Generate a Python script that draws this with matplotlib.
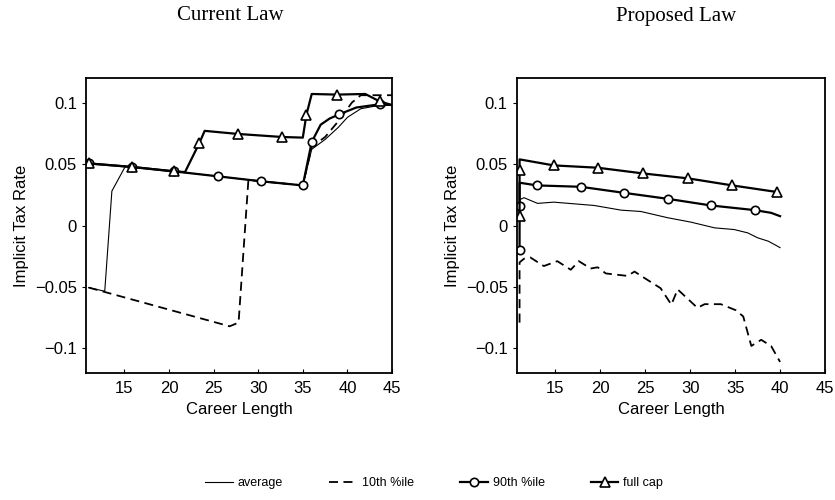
import matplotlib
matplotlib.use('Agg')
import matplotlib.pyplot as plt

plt.rcParams['font.family'] = 'Liberation Sans'

# Current law
cur_cap_x = [11, 15.9, 20.6, 21.8, 23.4, 24, 27.7, 32.7, 35, 35.4, 36, 38.8, 42, 43.6, 45]
cur_cap_y = [0.0505, 0.0476, 0.044, 0.0435, 0.067, 0.077, 0.0745, 0.072, 0.0715,
             0.09, 0.107, 0.1065, 0.107, 0.101, 0.098]
cur_cap_marks = [0, 1, 2, 4, 6, 7, 9, 11, 13]

cur_p90_x = [11, 15.9, 20.6, 25.5, 30.3, 35, 36, 37, 38, 39.1, 41, 43.6, 45]
cur_p90_y = [0.0505, 0.0476, 0.044, 0.040, 0.036, 0.0326, 0.068, 0.082, 0.087,
             0.0905, 0.096, 0.0986, 0.098]
cur_p90_marks = [0, 1, 2, 3, 4, 5, 6, 9, 11]

cur_p10_x = [11, 26.8, 27.8, 28.9, 30.3, 35, 36, 37.5, 39, 40.5, 41.5, 45]
cur_p10_y = [-0.0505, -0.082, -0.079, 0.037, 0.036, 0.0326, 0.064, 0.072, 0.085,
             0.1, 0.106, 0.106]

cur_avg_x = [11, 12.8, 13.6, 15.1, 15.9, 20.6, 25.5, 30.3, 35, 36, 37.5, 39, 40,
             41.5, 43, 45]
cur_avg_y = [-0.0505, -0.0535, 0.028, 0.048, 0.0476, 0.044, 0.040, 0.036, 0.0326,
             0.062, 0.07, 0.08, 0.088, 0.095, 0.097, 0.098]

# Proposed law
new_cap_x = [11, 11, 11, 14.8, 19.7, 24.7, 29.8, 34.7, 39.7]
new_cap_y = [0.0076, 0.0448, 0.0538, 0.0489, 0.047, 0.0424, 0.0383, 0.0326, 0.0272]
new_cap_marks = [0, 1, 3, 4, 5, 6, 7, 8]

new_p90_x = [11, 11, 11, 12.95, 17.8, 22.6, 27.5, 32.3, 37.2, 39, 40]
new_p90_y = [-0.020, 0.0158, 0.0348, 0.0326, 0.0315, 0.0266, 0.0217, 0.0163,
             0.0125, 0.0103, 0.0076]
new_p90_marks = [0, 1, 3, 4, 5, 6, 7, 8]

new_avg_x = [11, 11, 11.5, 13, 14.8, 19.3, 22.3, 24.5, 27.5, 30.1, 32.7, 34.9,
             36.4, 37.5, 38.7, 40]
new_avg_y = [0.0, 0.021, 0.0226, 0.018, 0.019, 0.0163, 0.0125, 0.0114, 0.0063,
             0.0027, -0.0019, -0.0033, -0.006, -0.01, -0.0128, -0.018]

new_p10_x = [11, 11, 11.5, 12.2, 13.7, 15.2, 16.7, 17.6, 18.9, 19.7, 20.6, 23,
             23.8, 24.9, 26.7, 27.9, 28.6, 30.8, 31.6, 33.4, 35.1, 35.9, 36.8,
             37.9, 39, 40]
new_p10_y = [-0.079, -0.030, -0.027, -0.026, -0.033, -0.029, -0.036, -0.029,
             -0.035, -0.034, -0.039, -0.041, -0.0375, -0.0427, -0.051, -0.0644,
             -0.052, -0.067, -0.064, -0.064, -0.069, -0.074, -0.098, -0.093,
             -0.098, -0.111]

titles = ['Current Law', 'Proposed Law']
xticks = [15, 20, 25, 30, 35, 40, 45]
yticks = [-0.1, -0.05, 0, 0.05, 0.1]
ytick_labels = ['\u22120.1', '\u22120.05', '0', '0.05', '0.1']

dash = (0, (5, 3))
fig = plt.figure(figsize=(8.35, 5.0), dpi=100)
ax1 = fig.add_axes([0.103, 0.254, 0.3665, 0.59])
ax2 = fig.add_axes([0.619, 0.254, 0.369, 0.59])

panels = [
    (ax1, cur_avg_x, cur_avg_y, cur_p10_x, cur_p10_y, cur_p90_x, cur_p90_y,
     cur_p90_marks, cur_cap_x, cur_cap_y, cur_cap_marks),
    (ax2, new_avg_x, new_avg_y, new_p10_x, new_p10_y, new_p90_x, new_p90_y,
     new_p90_marks, new_cap_x, new_cap_y, new_cap_marks),
]
for i, (ax, ax_, ay, dx, dy, px, py, pm, cx, cy, cm) in enumerate(panels):
    ax.plot(ax_, ay, color='black', lw=0.8, label='average')
    ax.plot(dx, dy, color='black', lw=1.3, linestyle=dash, label='10th %ile')
    ax.plot(px, py, color='black', lw=1.6, marker='o', markersize=6,
            markerfacecolor='white', markeredgewidth=1.2, markevery=pm,
            label='90th %ile')
    ax.plot(cx, cy, color='black', lw=1.6, marker='^', markersize=7,
            markerfacecolor='white', markeredgewidth=1.2, markevery=cm,
            label='full cap')
    ax.set_xlim(10.7, 45)
    ax.set_ylim(-0.12, 0.12)
    ax.set_xticks(xticks)
    ax.set_yticks(yticks)
    ax.set_yticklabels(ytick_labels)
    ax.tick_params(axis='x', direction='in', length=3, labelsize=12, pad=6)
    ax.tick_params(axis='y', direction='out', length=3, labelsize=12)
    ax.set_xlabel('Career Length', fontsize=12)
    ax.set_ylabel('Implicit Tax Rate', fontsize=12)
    for s in ax.spines.values():
        s.set_linewidth(1.3)
    fig.text(0.276 if i == 0 else 0.81, 0.968, titles[i],
             family='Liberation Serif', fontsize=15, ha='center', va='center')

handles, labels = ax1.get_legend_handles_labels()
fig.legend(handles, labels, loc='center', bbox_to_anchor=(0.52, 0.034), ncol=4,
           frameon=False, fontsize=9, handlelength=2.2, columnspacing=3.7,
           handletextpad=0.4)

fig.savefig('out.png', dpi=100)
